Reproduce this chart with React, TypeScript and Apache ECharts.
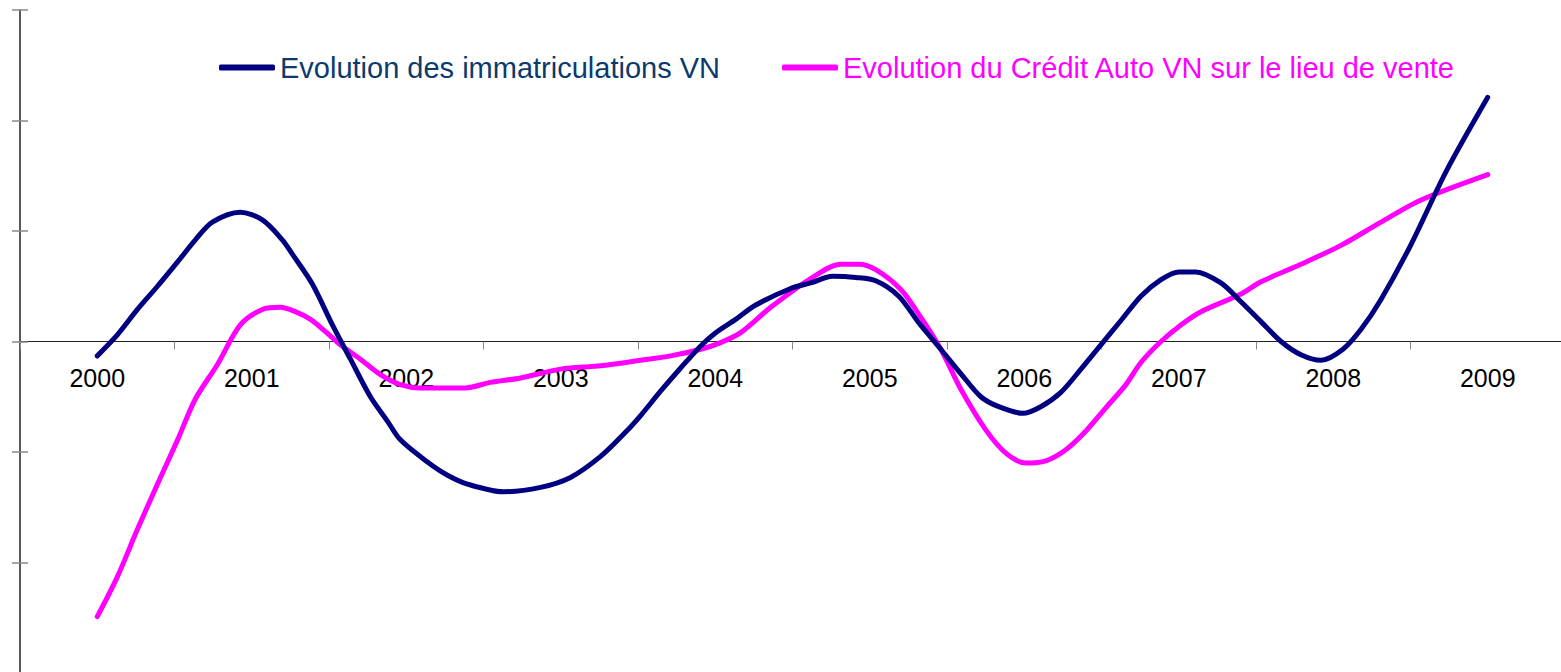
import React, { useEffect, useRef } from "react";
import * as echarts from "echarts";

const years = ["2000", "2001", "2002", "2003", "2004", "2005", "2006", "2007", "2008", "2009"];

const seriesNames = [
  "Evolution des immatriculations VN",
  "Evolution du Crédit Auto VN sur le lieu de vente",
];

// [position in years from 2000, value]
const immatriculations: [number, number][] = [
  [0.0, -0.13], [0.13, 0.06], [0.26, 0.29], [0.39, 0.5], [0.52, 0.72], [0.635, 0.92],
  [0.745, 1.08], [0.926, 1.17], [1.069, 1.1], [1.198, 0.92], [1.263, 0.79], [1.392, 0.52],
  [1.522, 0.15], [1.639, -0.16], [1.768, -0.5], [1.878, -0.72], [1.962, -0.89], [2.137, -1.09],
  [2.267, -1.21], [2.396, -1.29], [2.63, -1.36], [2.869, -1.32], [3.063, -1.23], [3.258, -1.04],
  [3.42, -0.82], [3.517, -0.67], [3.646, -0.45], [3.776, -0.24], [3.906, -0.04], [4.003, 0.08],
  [4.132, 0.2], [4.262, 0.33], [4.488, 0.48], [4.618, 0.53], [4.76, 0.59], [4.909, 0.58],
  [5.039, 0.55], [5.188, 0.41], [5.317, 0.17], [5.46, -0.07], [5.589, -0.29], [5.719, -0.5],
  [5.835, -0.59], [5.991, -0.65], [6.107, -0.59], [6.237, -0.46], [6.367, -0.25], [6.496, -0.03],
  [6.626, 0.19], [6.755, 0.41], [6.885, 0.56], [7.001, 0.63], [7.111, 0.63], [7.273, 0.53],
  [7.403, 0.36], [7.532, 0.18], [7.662, 0.0], [7.791, -0.12], [7.921, -0.17], [8.063, -0.07],
  [8.18, 0.11], [8.309, 0.38], [8.504, 0.88], [8.731, 1.54], [9.0, 2.21],
];

const creditAuto: [number, number][] = [
  [0.0, -2.49], [0.13, -2.13], [0.26, -1.7], [0.39, -1.29], [0.52, -0.89], [0.635, -0.52],
  [0.777, -0.21], [0.926, 0.15], [1.069, 0.29], [1.185, 0.31], [1.282, 0.27], [1.38, 0.2],
  [1.477, 0.09], [1.574, -0.03], [1.703, -0.16], [1.833, -0.3], [1.962, -0.39], [2.092, -0.42],
  [2.221, -0.42], [2.383, -0.42], [2.545, -0.37], [2.74, -0.33], [2.999, -0.25], [3.258, -0.22],
  [3.517, -0.17], [3.711, -0.13], [3.906, -0.07], [4.035, -0.01], [4.164, 0.08], [4.359, 0.31],
  [4.618, 0.57], [4.812, 0.7], [4.929, 0.7], [5.039, 0.65], [5.201, 0.47], [5.33, 0.22],
  [5.46, -0.07], [5.589, -0.43], [5.751, -0.8], [5.881, -1.01], [6.01, -1.1], [6.14, -1.08],
  [6.269, -0.98], [6.399, -0.81], [6.528, -0.6], [6.658, -0.39], [6.755, -0.19], [6.885, 0.0],
  [7.014, 0.15], [7.144, 0.27], [7.403, 0.43], [7.532, 0.54], [7.791, 0.7], [8.05, 0.87],
  [8.309, 1.08], [8.568, 1.28], [9.0, 1.51],
];

const NAVY = "#000080";
const MAGENTA = "#FF00FF";
const FONT = "'Liberation Sans', Arial, sans-serif";

const GRID_LEFT = 20;
const GRID_TOP = 10;
const GRID_W = 1545;
const GRID_H = 663;

export default function App() {
  const ref = useRef<HTMLDivElement>(null);
  useEffect(() => {
    if (!ref.current) return;
    const chart = echarts.init(ref.current, undefined, { renderer: "svg" });
    chart.setOption({
      animation: false,
      backgroundColor: "#ffffff",
      grid: [
        { left: GRID_LEFT, top: GRID_TOP, width: GRID_W, height: GRID_H, containLabel: false, outerBoundsMode: "none" },
        { left: GRID_LEFT, top: GRID_TOP, width: GRID_W, height: GRID_H / 2, containLabel: false, outerBoundsMode: "none" },
      ],
      legend: [
        {
          left: 214,
          top: 48,
          data: [{ name: seriesNames[0], textStyle: { color: "#0B3A6E" } }],
          icon: "roundRect",
          itemWidth: 56,
          itemHeight: 6,
          textStyle: { fontSize: 29, fontFamily: FONT },
        },
        {
          left: 777,
          top: 48,
          data: [{ name: seriesNames[1], textStyle: { color: MAGENTA } }],
          icon: "roundRect",
          itemWidth: 56,
          itemHeight: 6,
          textStyle: { fontSize: 29, fontFamily: FONT },
        },
      ],
      xAxis: [
        {
          type: "value",
          gridIndex: 0,
          min: -0.5,
          max: 9.5,
          show: false,
        },
        {
          type: "category",
          gridIndex: 1,
          position: "bottom",
          data: years,
          boundaryGap: true,
          axisLine: { show: true, onZero: false, lineStyle: { color: "#222", width: 1 } },
          axisTick: { show: true, length: 8, lineStyle: { color: "#888" } },
          axisLabel: { fontSize: 25, color: "#000", fontFamily: FONT, margin: 24 },
          splitLine: { show: false },
        },
      ],
      yAxis: [
        {
          type: "value",
          gridIndex: 0,
          min: -3,
          max: 3,
          interval: 1,
          axisLine: { show: true, onZero: false, lineStyle: { color: "#222", width: 1.5 } },
          axisTick: { show: true, length: 8, lineStyle: { color: "#888", width: 1.5 } },
          axisLabel: { show: false },
          splitLine: { show: false },
        },
        {
          type: "value",
          gridIndex: 0,
          min: -3,
          max: 3,
          interval: 1,
          position: "left",
          axisLine: { show: false, onZero: false },
          axisTick: { show: true, inside: true, length: 8, lineStyle: { color: "#888", width: 1.5 } },
          axisLabel: { show: false },
          splitLine: { show: false },
        },
        {
          type: "value",
          gridIndex: 1,
          min: 0,
          max: 3,
          show: false,
        },
      ],
      series: [
        {
          name: seriesNames[0],
          type: "line",
          xAxisIndex: 0,
          yAxisIndex: 0,
          data: immatriculations,
          smooth: 0.3,
          showSymbol: false,
          symbol: "none",
          itemStyle: { color: NAVY },
          lineStyle: { color: NAVY, width: 5, cap: "round", join: "round" },
          z: 3,
        },
        {
          name: seriesNames[1],
          type: "line",
          xAxisIndex: 0,
          yAxisIndex: 0,
          data: creditAuto,
          smooth: 0.3,
          showSymbol: false,
          symbol: "none",
          itemStyle: { color: MAGENTA },
          lineStyle: { color: MAGENTA, width: 5, cap: "round", join: "round" },
          z: 2,
        },
      ],
    });
    return () => chart.dispose();
  }, []);
  return (
    <div
      ref={ref}
      style={{ position: "fixed", left: 0, top: 0, width: 1561, height: 672, background: "#fff" }}
    />
  );
}
